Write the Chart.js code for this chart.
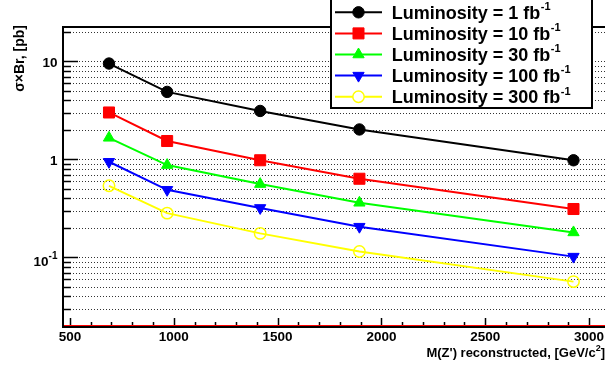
<!DOCTYPE html>
<html><head><meta charset="utf-8">
<script src="https://cdn.jsdelivr.net/npm/chart.js@4/dist/chart.umd.min.js"></script>
<style>html,body{margin:0;padding:0;overflow:hidden;background:#fff}#wrap{width:620px;height:369px}</style>
</head><body><div id="wrap"><canvas id="c" width="620" height="369"></canvas></div>
<script>
// ---- data ----
const massPoints = [688, 968, 1416, 1894, 2925];
const lumi1   = [9.5, 4.88, 3.12, 2.02, 0.98];
const lumi10  = [3.01, 1.54, 0.98, 0.635, 0.312];
const lumi30  = [1.66, 0.875, 0.56, 0.361, 0.18];
const lumi100 = [0.946, 0.49, 0.32, 0.206, 0.102];
const lumi300 = [0.538, 0.283, 0.176, 0.115, 0.0567];
const seriesLumis = ['1', '10', '30', '100', '300'];
const xTickValues = [500, 1000, 1500, 2000, 2500, 3000];
const yTickValues = [0.1, 1, 10];
const yTickLabels = [['10', '-1'], ['1', ''], ['10', '']];
const xTitle = ['M(Z\') reconstructed, [GeV/c', '2', ']'];
const yTitle = 'σ×Br, [pb]';

// ---- styles ----
const FONT = '"Liberation Sans", Arial, Helvetica, sans-serif';
const seriesValues = [lumi1, lumi10, lumi30, lumi100, lumi300];
const seriesColors = ['#000000', '#ff0000', '#00ff00', '#0000ff', '#ffff00'];
const seriesShapes = ['circle', 'rect', 'triangle', 'triangle', 'circle'];
const seriesRot = [0, 0, 0, 180, 0];
const seriesRadius = [5.7, 7.8, 6.5, 6.5, 5.7];
const seriesFilled = [true, true, true, true, false];

const datasets = seriesValues.map((vals, i) => ({
  label: 'Luminosity = ' + seriesLumis[i] + ' fb',
  data: vals.map((v, k) => ({x: massPoints[k], y: v})),
  borderColor: seriesColors[i],
  borderWidth: 2,
  pointStyle: seriesShapes[i],
  pointRotation: seriesRot[i],
  pointRadius: seriesRadius[i],
  pointHoverRadius: seriesRadius[i],
  pointBackgroundColor: seriesFilled[i] ? seriesColors[i] : 'rgba(0,0,0,0)',
  pointBorderColor: seriesColors[i],
  pointBorderWidth: seriesFilled[i] ? 1 : 1.5,
  tension: 0,
  fill: false
}));

function drawMarker(ctx, i, x, y) {
  Chart.helpers.drawPoint(ctx, {
    pointStyle: seriesShapes[i], rotation: seriesRot[i], radius: seriesRadius[i], borderWidth: seriesFilled[i] ? 1 : 1.5
  }, x, y);
}

const framePlugin = {
  id: 'frame',
  beforeDatasetsDraw(chart) {
    const {ctx, chartArea: a, scales: {y}} = chart;
    ctx.save();
    ctx.strokeStyle = '#333';
    ctx.lineWidth = 1;
    ctx.setLineDash([1, 2]);
    for (let e = -2; e <= 1; e++) {
      for (let m = 1; m <= 9; m++) {
        const v = m * Math.pow(10, e);
        if (v < y.min * 1.001 || v > y.max) continue;
        const py = Math.round(y.getPixelForValue(v)) + 0.5;
        ctx.beginPath(); ctx.moveTo(a.left + 1, py); ctx.lineTo(a.right, py); ctx.stroke();
      }
    }
    ctx.restore();
  },
  afterDraw(chart) {
    const {ctx, chartArea: a, scales: {x, y}} = chart;
    ctx.save();
    // left ticks
    ctx.strokeStyle = '#000';
    ctx.lineWidth = 1.5;
    for (let e = -2; e <= 1; e++) {
      for (let m = 1; m <= 9; m++) {
        const v = m * Math.pow(10, e);
        if (v < y.min * 1.001 || v > y.max) continue;
        const py = Math.round(y.getPixelForValue(v)) + 0.5;
        const len = m === 1 ? 15 : 8;
        ctx.beginPath(); ctx.moveTo(a.left, py); ctx.lineTo(a.left + len, py); ctx.stroke();
      }
    }
    // bottom ticks
    for (let v = 500; v <= x.max; v += 100) {
      const px = Math.round(x.getPixelForValue(v)) + 0.5;
      const len = v % 500 === 0 ? 8 : 4;
      ctx.beginPath(); ctx.moveTo(px, a.bottom); ctx.lineTo(px, a.bottom - len); ctx.stroke();
    }
    // frame
    ctx.fillStyle = '#ff0000';
    ctx.fillRect(a.left, a.bottom - 1, a.right - a.left, 1);
    ctx.fillStyle = '#000';
    ctx.fillRect(a.left - 1, a.top - 1, 2, a.bottom - a.top + 2);
    ctx.fillRect(a.left - 1, a.top - 1, a.right - a.left + 1, 2);
    ctx.fillRect(a.left - 1, a.bottom, a.right - a.left + 1, 2);

    // x tick labels
    ctx.fillStyle = '#000';
    ctx.font = 'bold 13.5px ' + FONT;
    ctx.textAlign = 'center';
    ctx.textBaseline = 'alphabetic';
    xTickValues.forEach(v => {
      ctx.fillText(String(v), x.getPixelForValue(v), 341);
    });
    // y tick labels
    yTickValues.forEach((v, i) => {
      const py = y.getPixelForValue(v);
      const [base, sup] = yTickLabels[i];
      const right = 57.5;
      ctx.textAlign = 'right';
      if (sup) {
        ctx.font = 'bold 10px ' + FONT;
        ctx.fillText(sup, right, py + 1.5);
        const sw = ctx.measureText(sup).width;
        ctx.font = 'bold 13.5px ' + FONT;
        ctx.fillText(base, right - sw, py + 8.5);
      } else {
        ctx.font = 'bold 13.5px ' + FONT;
        ctx.fillText(base, right, py + 5.5);
      }
    });
    // x title
    ctx.font = 'bold 13px ' + FONT;
    const supFont = 'bold 9px ' + FONT;
    let w1 = ctx.measureText(xTitle[0]).width;
    let w3 = ctx.measureText(xTitle[2]).width;
    ctx.font = supFont;
    let w2 = ctx.measureText(xTitle[1]).width;
    let xEnd = 605;
    let x0 = xEnd - w1 - w2 - w3;
    ctx.textAlign = 'left';
    ctx.font = 'bold 13px ' + FONT;
    ctx.fillText(xTitle[0], x0, 357);
    ctx.font = supFont;
    ctx.fillText(xTitle[1], x0 + w1, 350.5);
    ctx.font = 'bold 13px ' + FONT;
    ctx.fillText(xTitle[2], x0 + w1 + w2, 357);
    // y title
    ctx.save();
    ctx.translate(24, 25);
    ctx.rotate(-Math.PI / 2);
    ctx.textAlign = 'right';
    ctx.font = 'bold 14px ' + FONT;
    ctx.fillText(yTitle, 0, 0);
    ctx.restore();

    // legend
    const lx0 = 331, ly0 = -2, lx1 = 592, ly1 = 108;
    ctx.fillStyle = '#fff';
    ctx.fillRect(lx0, ly0, lx1 - lx0, ly1 - ly0);
    ctx.strokeStyle = '#000';
    ctx.lineWidth = 2;
    ctx.strokeRect(lx0, ly0, lx1 - lx0, ly1 - ly0);
    chart.data.datasets.forEach((ds, i) => {
      const cy = 12.3 + i * 21.1;
      ctx.strokeStyle = seriesColors[i];
      ctx.lineWidth = 2;
      ctx.beginPath(); ctx.moveTo(335, cy); ctx.lineTo(382, cy); ctx.stroke();
      ctx.fillStyle = seriesFilled[i] ? seriesColors[i] : '#fff';
      ctx.strokeStyle = seriesColors[i];
      ctx.lineWidth = seriesFilled[i] ? 1 : 1.5;
      drawMarker(ctx, i, 358.5, cy);
      ctx.fillStyle = '#000';
      ctx.textAlign = 'left';
      ctx.font = 'bold 18px ' + FONT;
      ctx.fillText(ds.label, 391.7, cy + 6.3);
      const tw = ctx.measureText(ds.label).width;
      ctx.font = 'bold 11px ' + FONT;
      ctx.fillText('-1', 391.7 + tw + 0.5, cy - 2.2);
    });
    ctx.restore();
  }
};

new Chart(document.getElementById('c'), {
  type: 'line',
  data: {datasets},
  options: {
    responsive: false,
    animation: false,
    events: [],
    layout: {padding: {left: 63, top: 27, right: 5, bottom: 43}},
    plugins: {legend: {display: false}, tooltip: {enabled: false}},
    scales: {
      x: {
        type: 'linear', min: 466.5, max: 3106.6,
        grid: {display: false, drawTicks: false},
        border: {display: false},
        ticks: {display: false},
        afterFit(s) { s.height = 0; }
      },
      y: {
        type: 'logarithmic', min: 0.02, max: 22.4,
        grid: {display: false, drawTicks: false},
        border: {display: false},
        ticks: {display: false},
        afterFit(s) { s.width = 0; }
      }
    }
  },
  plugins: [framePlugin]
});
</script>
</body></html>
